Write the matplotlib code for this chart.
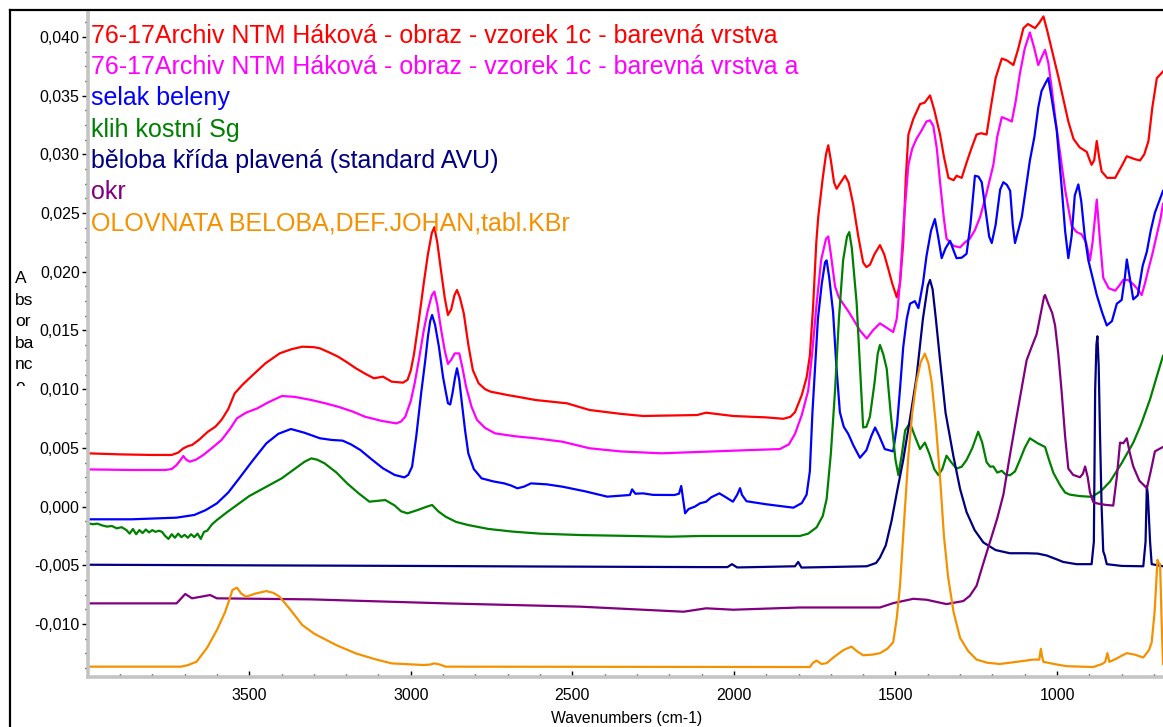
# import libraries

import numpy as np
from matplotlib import pyplot as plt
from matplotlib.lines import Line2D
from matplotlib.ticker import MultipleLocator, AutoMinorLocator, FuncFormatter
from matplotlib.transforms import Bbox, TransformedBbox

plt.rcParams['font.family'] = ['Liberation Sans', 'DejaVu Sans']


# spectra (wavenumber in cm-1, absorbance)

names = ['76-17Archiv NTM Háková - obraz - vzorek 1c - barevná vrstva',
         '76-17Archiv NTM Háková - obraz - vzorek 1c - barevná vrstva a',
         'selak beleny',
         'klih kostní Sg',
         'běloba křída plavená (standard AVU)',
         'okr',
         'OLOVNATA BELOBA,DEF.JOHAN,tabl.KBr']
colors = ['#ff0000', '#ff00ff', '#0000ff', '#008000', '#000080', '#800080', '#f59100']

red = [(4000, 0.00454), (3900, 0.00445), (3800, 0.00440), (3740, 0.00440), (3720, 0.00460),
       (3704, 0.00496), (3690, 0.00515), (3677, 0.00525), (3655, 0.00570), (3628, 0.00638),
       (3605, 0.00680), (3586, 0.00738), (3565, 0.00830), (3545, 0.00965), (3520, 0.01040),
       (3489, 0.01121), (3450, 0.01220), (3406, 0.01305), (3370, 0.01340), (3336, 0.01362),
       (3300, 0.01358), (3281, 0.01348), (3250, 0.01310), (3225, 0.01277), (3195, 0.01225),
       (3170, 0.01178), (3140, 0.01130), (3114, 0.01093), (3086, 0.01107), (3059, 0.01064),
       (3024, 0.01056), (3010, 0.01080), (3000, 0.01160), (2990, 0.01300), (2975, 0.01589),
       (2960, 0.01900), (2947, 0.02150), (2935, 0.02330), (2927, 0.02380), (2918, 0.02250),
       (2906, 0.02000), (2895, 0.01780), (2885, 0.01632), (2875, 0.01680), (2865, 0.01800),
       (2857, 0.01845), (2848, 0.01780), (2836, 0.01646), (2822, 0.01380), (2808, 0.01163),
       (2790, 0.01050), (2770, 0.01000), (2753, 0.00979), (2700, 0.00950), (2670, 0.00936),
       (2614, 0.00908), (2517, 0.00880), (2447, 0.00823), (2350, 0.00790), (2281, 0.00772),
       (2114, 0.00780), (2086, 0.00800), (2003, 0.00772), (1900, 0.00760), (1847, 0.00748),
       (1825, 0.00765), (1811, 0.00804), (1790, 0.00950), (1775, 0.01100), (1765, 0.01284),
       (1755, 0.01700), (1745, 0.02250), (1739, 0.02467), (1725, 0.02800), (1715, 0.03000),
       (1708, 0.03077), (1700, 0.02950), (1690, 0.02760), (1682, 0.02707), (1670, 0.02760),
       (1656, 0.02818), (1645, 0.02760), (1631, 0.02578), (1615, 0.02300), (1600, 0.02079),
       (1590, 0.02040), (1579, 0.02060), (1565, 0.02150), (1548, 0.02227), (1535, 0.02150),
       (1522, 0.02023), (1510, 0.01900), (1496, 0.01783), (1486, 0.01900), (1476, 0.02245),
       (1468, 0.02800), (1460, 0.03169), (1445, 0.03300), (1424, 0.03428), (1410, 0.03440),
       (1393, 0.03502), (1380, 0.03380), (1362, 0.03169), (1350, 0.02980), (1336, 0.02800),
       (1320, 0.02780), (1311, 0.02818), (1295, 0.02800), (1280, 0.02929), (1265, 0.03050),
       (1249, 0.03169), (1235, 0.03180), (1218, 0.03169), (1205, 0.03400), (1190, 0.03650),
       (1171, 0.03816), (1155, 0.03800), (1135, 0.03761), (1120, 0.03900), (1104, 0.04075),
       (1090, 0.04110), (1068, 0.04075), (1055, 0.04120), (1042, 0.04175), (1030, 0.04050),
       (1011, 0.03835), (995, 0.03650), (980, 0.03465), (965, 0.03280), (949, 0.03132),
       (930, 0.03060), (908, 0.03021), (900, 0.02960), (893, 0.02911), (885, 0.02950),
       (877, 0.03114), (870, 0.02980), (862, 0.02855), (845, 0.02800), (820, 0.02800),
       (800, 0.02900), (784, 0.02984), (760, 0.02960), (743, 0.02948), (730, 0.03000),
       (717, 0.03114), (705, 0.03400), (691, 0.03650), (672, 0.03705)]

magenta = [(4000, 0.00317), (3864, 0.00312), (3760, 0.00312), (3740, 0.00320), (3725, 0.00354),
           (3712, 0.00400), (3704, 0.00431), (3695, 0.00400), (3684, 0.00383), (3665, 0.00400),
           (3642, 0.00440), (3615, 0.00500), (3586, 0.00567), (3560, 0.00660), (3538, 0.00752),
           (3510, 0.00800), (3475, 0.00837), (3440, 0.00890), (3399, 0.00942), (3360, 0.00935),
           (3308, 0.00908), (3265, 0.00880), (3225, 0.00851), (3180, 0.00810), (3142, 0.00766),
           (3090, 0.00730), (3045, 0.00709), (3030, 0.00725), (3017, 0.00766), (3000, 0.00900),
           (2988, 0.01050), (2975, 0.01249), (2960, 0.01500), (2947, 0.01676), (2935, 0.01800),
           (2927, 0.01831), (2918, 0.01720), (2906, 0.01504), (2895, 0.01330), (2885, 0.01215),
           (2875, 0.01250), (2864, 0.01305), (2850, 0.01305), (2840, 0.01180), (2829, 0.01022),
           (2812, 0.00850), (2795, 0.00738), (2770, 0.00670), (2739, 0.00624), (2680, 0.00600),
           (2614, 0.00582), (2531, 0.00553), (2447, 0.00497), (2350, 0.00470), (2225, 0.00454),
           (2086, 0.00468), (1947, 0.00482), (1858, 0.00490), (1830, 0.00530), (1811, 0.00619),
           (1790, 0.00780), (1770, 0.00989), (1758, 0.01300), (1744, 0.01728), (1730, 0.02100),
           (1715, 0.02280), (1708, 0.02301), (1700, 0.02150), (1687, 0.01876), (1675, 0.01780),
           (1662, 0.01728), (1645, 0.01660), (1631, 0.01598), (1610, 0.01500), (1589, 0.01432),
           (1570, 0.01500), (1548, 0.01561), (1525, 0.01520), (1507, 0.01487), (1496, 0.01600),
           (1486, 0.01913), (1475, 0.02400), (1460, 0.02911), (1448, 0.03050), (1435, 0.03132),
           (1420, 0.03200), (1404, 0.03280), (1393, 0.03290), (1383, 0.03243), (1372, 0.03050),
           (1362, 0.02763), (1350, 0.02450), (1342, 0.02282), (1320, 0.02220), (1300, 0.02208),
           (1285, 0.02250), (1270, 0.02282), (1255, 0.02350), (1238, 0.02467), (1220, 0.02650),
           (1197, 0.02911), (1185, 0.03150), (1171, 0.03317), (1155, 0.03300), (1140, 0.03280),
           (1128, 0.03450), (1115, 0.03687), (1100, 0.03900), (1084, 0.04038), (1070, 0.03900),
           (1058, 0.03761), (1047, 0.03830), (1037, 0.03890), (1027, 0.03780), (1017, 0.03576),
           (1005, 0.03300), (991, 0.03021), (975, 0.02700), (955, 0.02393), (940, 0.02340),
           (924, 0.02319), (910, 0.02250), (898, 0.02097), (890, 0.02250), (877, 0.02615),
           (868, 0.02300), (857, 0.01949), (840, 0.01860), (820, 0.01839), (808, 0.01880),
           (795, 0.01931), (780, 0.01930), (764, 0.01894), (750, 0.01850), (738, 0.01802),
           (728, 0.01900), (717, 0.02023), (705, 0.02150), (691, 0.02319), (680, 0.02450),
           (672, 0.02578)]

selak = [(4000, -0.00108), (3864, -0.00108), (3725, -0.00094), (3670, -0.00071), (3635, -0.00030),
         (3600, 0.00028), (3565, 0.00120), (3531, 0.00241), (3490, 0.00390), (3447, 0.00539),
         (3410, 0.00620), (3371, 0.00661), (3330, 0.00630), (3281, 0.00582), (3245, 0.00568),
         (3211, 0.00562), (3185, 0.00530), (3156, 0.00482), (3120, 0.00400), (3086, 0.00326),
         (3050, 0.00270), (3020, 0.00249), (3008, 0.00270), (2996, 0.00340), (2983, 0.00600),
         (2968, 0.00965), (2955, 0.01250), (2947, 0.01447), (2940, 0.01580), (2934, 0.01632),
         (2925, 0.01550), (2913, 0.01362), (2900, 0.01100), (2885, 0.00880), (2878, 0.00870),
         (2871, 0.00965), (2863, 0.01100), (2857, 0.01178), (2850, 0.01080), (2843, 0.00908),
         (2832, 0.00650), (2822, 0.00454), (2805, 0.00320), (2781, 0.00241), (2745, 0.00215),
         (2711, 0.00198), (2690, 0.00180), (2670, 0.00156), (2650, 0.00170), (2628, 0.00198),
         (2580, 0.00190), (2531, 0.00170), (2460, 0.00130), (2392, 0.00085), (2322, 0.00099),
         (2315, 0.00147), (2305, 0.00110), (2281, 0.00113), (2250, 0.00100), (2184, 0.00099),
         (2170, 0.00110), (2163, 0.00176), (2157, 0.00060), (2151, -0.00057), (2140, -0.00020),
         (2121, 0.00000), (2105, 0.00028), (2086, 0.00042), (2070, 0.00080), (2045, 0.00113),
         (2025, 0.00080), (2003, 0.00042), (1990, 0.00100), (1981, 0.00157), (1975, 0.00100),
         (1961, 0.00046), (1900, 0.00020), (1816, -0.00009), (1790, 0.00030), (1775, 0.00102),
         (1765, 0.00300), (1757, 0.00800), (1749, 0.01173), (1740, 0.01600), (1728, 0.01900),
         (1718, 0.02080), (1713, 0.02097), (1705, 0.01950), (1693, 0.01654), (1683, 0.01200),
         (1672, 0.00804), (1660, 0.00680), (1646, 0.00619), (1630, 0.00520), (1610, 0.00416),
         (1590, 0.00480), (1575, 0.00600), (1563, 0.00674), (1550, 0.00600), (1533, 0.00490),
         (1507, 0.00471), (1495, 0.00700), (1486, 0.01000), (1476, 0.01358), (1465, 0.01600),
         (1455, 0.01728), (1440, 0.01750), (1429, 0.01691), (1415, 0.01900), (1404, 0.02134),
         (1390, 0.02350), (1378, 0.02449), (1368, 0.02300), (1357, 0.02116), (1345, 0.02200),
         (1331, 0.02264), (1320, 0.02180), (1311, 0.02116), (1295, 0.02120), (1280, 0.02153),
         (1268, 0.02400), (1254, 0.02818), (1243, 0.02810), (1233, 0.02763), (1220, 0.02500),
         (1210, 0.02300), (1202, 0.02245), (1190, 0.02400), (1176, 0.02700), (1166, 0.02763),
         (1155, 0.02740), (1145, 0.02689), (1137, 0.02400), (1130, 0.02245), (1120, 0.02350),
         (1109, 0.02467), (1097, 0.02700), (1084, 0.02948), (1070, 0.03150), (1058, 0.03400),
         (1048, 0.03539), (1037, 0.03600), (1027, 0.03650), (1015, 0.03450), (1001, 0.03206),
         (985, 0.02700), (975, 0.02350), (965, 0.02116), (955, 0.02300), (945, 0.02650),
         (934, 0.02744), (925, 0.02600), (914, 0.02300), (903, 0.02097), (890, 0.01950),
         (877, 0.01802), (860, 0.01650), (846, 0.01543), (830, 0.01580), (815, 0.01728),
         (800, 0.01760), (790, 0.01950), (784, 0.02105), (775, 0.01950), (764, 0.01765),
         (750, 0.01800), (735, 0.02050), (722, 0.02171), (710, 0.02350), (697, 0.02504),
         (684, 0.02600), (672, 0.02689)]

klih = [(4000, -0.00140), (3985, -0.00150), (3970, -0.00145), (3955, -0.00160), (3940, -0.00170),
        (3925, -0.00165), (3910, -0.00185), (3895, -0.00175), (3880, -0.00200), (3870, -0.00230),
        (3860, -0.00190), (3850, -0.00235), (3840, -0.00200), (3830, -0.00225), (3820, -0.00195),
        (3810, -0.00220), (3800, -0.00200), (3790, -0.00215), (3780, -0.00205), (3770, -0.00215),
        (3760, -0.00250), (3750, -0.00275), (3740, -0.00235), (3730, -0.00265), (3720, -0.00230),
        (3710, -0.00260), (3700, -0.00240), (3690, -0.00265), (3680, -0.00235), (3670, -0.00260),
        (3660, -0.00230), (3650, -0.00275), (3640, -0.00215), (3630, -0.00205), (3615, -0.00150),
        (3600, -0.00114), (3570, -0.00050), (3545, 0.00000), (3500, 0.00090), (3447, 0.00170),
        (3400, 0.00240), (3364, 0.00312), (3330, 0.00380), (3308, 0.00411), (3290, 0.00400),
        (3267, 0.00369), (3230, 0.00290), (3197, 0.00198), (3160, 0.00110), (3128, 0.00042),
        (3100, 0.00050), (3079, 0.00056), (3050, 0.00010), (3030, -0.00040), (3010, -0.00057),
        (2980, -0.00030), (2950, 0.00000), (2934, 0.00014), (2915, -0.00040), (2892, -0.00086),
        (2860, -0.00130), (2822, -0.00157), (2760, -0.00190), (2684, -0.00213), (2600, -0.00230),
        (2475, -0.00242), (2197, -0.00256), (2105, -0.00250), (1796, -0.00250), (1770, -0.00230),
        (1744, -0.00176), (1725, -0.00080), (1713, 0.00065), (1700, 0.00450), (1687, 0.00989),
        (1675, 0.01600), (1662, 0.02097), (1650, 0.02300), (1643, 0.02338), (1635, 0.02200),
        (1620, 0.01728), (1610, 0.01200), (1600, 0.00674), (1590, 0.00680), (1579, 0.00767),
        (1565, 0.01050), (1555, 0.01300), (1548, 0.01377), (1538, 0.01300), (1527, 0.01173),
        (1515, 0.00800), (1500, 0.00400), (1491, 0.00268), (1480, 0.00450), (1470, 0.00650),
        (1455, 0.00711), (1440, 0.00600), (1424, 0.00490), (1409, 0.00545), (1395, 0.00450),
        (1380, 0.00320), (1367, 0.00268), (1355, 0.00320), (1342, 0.00434), (1328, 0.00380),
        (1311, 0.00324), (1295, 0.00340), (1280, 0.00397), (1262, 0.00500), (1244, 0.00638),
        (1232, 0.00550), (1218, 0.00379), (1207, 0.00340), (1197, 0.00342), (1185, 0.00290),
        (1171, 0.00305), (1158, 0.00270), (1145, 0.00268), (1130, 0.00300), (1115, 0.00397),
        (1100, 0.00500), (1084, 0.00582), (1060, 0.00540), (1037, 0.00508), (1025, 0.00400),
        (1011, 0.00286), (990, 0.00180), (975, 0.00120), (960, 0.00102), (930, 0.00090),
        (893, 0.00083), (865, 0.00130), (836, 0.00213), (800, 0.00370), (764, 0.00545),
        (740, 0.00700), (712, 0.00915), (690, 0.01120), (672, 0.01284)]

beloba = [(4000, -0.00495), (3000, -0.00505), (2600, -0.00510), (2105, -0.00515), (2020, -0.00515),
          (2006, -0.00490), (1990, -0.00518), (1811, -0.00508), (1801, -0.00471), (1791, -0.00519),
          (1589, -0.00508), (1560, -0.00480), (1548, -0.00434), (1530, -0.00330), (1512, -0.00120),
          (1495, 0.00130), (1476, 0.00397), (1455, 0.00750), (1435, 0.01099), (1415, 0.01600),
          (1400, 0.01880), (1393, 0.01931), (1385, 0.01850), (1375, 0.01600), (1362, 0.01247),
          (1345, 0.00800), (1321, 0.00434), (1300, 0.00150), (1280, -0.00046), (1255, -0.00200),
          (1228, -0.00305), (1190, -0.00370), (1146, -0.00397), (1094, -0.00397), (1060, -0.00400),
          (1032, -0.00416), (1000, -0.00450), (981, -0.00471), (940, -0.00490), (893, -0.00490),
          (886, -0.00300), (882, 0.00989), (878, 0.01380), (875, 0.01451), (871, 0.01200),
          (867, 0.00619), (862, 0.00000), (857, -0.00379), (852, -0.00420), (846, -0.00490),
          (800, -0.00505), (733, -0.00508), (726, -0.00300), (722, 0.00176), (719, 0.00100),
          (717, -0.00009), (712, -0.00300), (707, -0.00490), (672, -0.00508)]

okr = [(4000, -0.00824), (3725, -0.00824), (3698, -0.00744), (3677, -0.00781), (3621, -0.00753),
       (3600, -0.00781), (3308, -0.00790), (2892, -0.00824), (2475, -0.00852), (2156, -0.00895),
       (2086, -0.00866), (2002, -0.00878), (1796, -0.00859), (1548, -0.00859), (1507, -0.00822),
       (1445, -0.00785), (1404, -0.00793), (1342, -0.00830), (1290, -0.00804), (1270, -0.00760),
       (1249, -0.00674), (1230, -0.00500), (1208, -0.00305), (1185, -0.00100), (1166, 0.00102),
       (1145, 0.00450), (1125, 0.00767), (1110, 0.01000), (1094, 0.01247), (1080, 0.01350),
       (1063, 0.01469), (1050, 0.01650), (1040, 0.01790), (1037, 0.01802), (1027, 0.01728),
       (1015, 0.01650), (1006, 0.01543), (996, 0.01300), (986, 0.00989), (975, 0.00600),
       (965, 0.00324), (950, 0.00270), (929, 0.00250), (920, 0.00280), (913, 0.00342),
       (905, 0.00250), (898, 0.00120), (888, 0.00040), (877, 0.00028), (850, 0.00015),
       (826, 0.00009), (815, 0.00250), (805, 0.00545), (795, 0.00540), (784, 0.00582),
       (775, 0.00460), (764, 0.00342), (745, 0.00220), (722, 0.00157), (710, 0.00300),
       (697, 0.00471), (672, 0.00508)]

olovnata = [(4000, -0.01363), (3711, -0.01363), (3690, -0.01350), (3663, -0.01321), (3630, -0.01200),
            (3600, -0.01051), (3575, -0.00900), (3560, -0.00780), (3552, -0.00710), (3538, -0.00690),
            (3525, -0.00740), (3510, -0.00767), (3480, -0.00740), (3447, -0.00719), (3425, -0.00735),
            (3406, -0.00767), (3375, -0.00870), (3336, -0.01008), (3300, -0.01080), (3281, -0.01108),
            (3230, -0.01180), (3170, -0.01250), (3110, -0.01300), (3059, -0.01335), (2961, -0.01349),
            (2940, -0.01345), (2927, -0.01335), (2910, -0.01345), (2892, -0.01363), (1765, -0.01366),
            (1755, -0.01330), (1744, -0.01311), (1729, -0.01340), (1713, -0.01333), (1690, -0.01280),
            (1660, -0.01220), (1636, -0.01192), (1620, -0.01230), (1600, -0.01266), (1570, -0.01260),
            (1548, -0.01248), (1525, -0.01210), (1507, -0.01155), (1496, -0.00950), (1486, -0.00675),
            (1475, -0.00200), (1460, 0.00434), (1448, 0.00800), (1435, 0.01062), (1422, 0.01230),
            (1409, 0.01303), (1398, 0.01220), (1388, 0.01062), (1375, 0.00700), (1362, 0.00249),
            (1350, -0.00250), (1337, -0.00601), (1320, -0.00900), (1300, -0.01118), (1275, -0.01230),
            (1249, -0.01303), (1215, -0.01330), (1177, -0.01340), (1120, -0.01320), (1074, -0.01303),
            (1055, -0.01303), (1050, -0.01211), (1046, -0.01280), (1042, -0.01322), (1000, -0.01345),
            (970, -0.01359), (888, -0.01366), (860, -0.01340), (851, -0.01322), (844, -0.01248),
            (838, -0.01322), (820, -0.01300), (800, -0.01270), (784, -0.01248), (760, -0.01260),
            (733, -0.01285), (715, -0.01220), (707, -0.01155), (698, -0.00900), (689, -0.00453),
            (685, -0.00480), (681, -0.00490), (676, -0.01000), (672, -0.01340)]

spectra = [red, magenta, selak, klih, beloba, okr, olovnata]


# figure and axes

W, H = 1163, 727
fig = plt.figure(figsize=(W / 100, H / 100), dpi=100)
ax = fig.add_axes([88 / W, 1 - 677 / H, 1 - 88 / W, (677 - 13) / H])

for s, c in zip(spectra, colors):
    s = np.array(s)
    ax.plot(s[:, 0], s[:, 1], color=c, lw=1.6, solid_joinstyle='round')

ax.set_xlim(3999, 672)
ax.set_ylim(-0.01451, 0.04204)

for side in ['top', 'right']:
    ax.spines[side].set_visible(False)
for side in ['left', 'bottom']:
    ax.spines[side].set_color('#c4c4c4')
    ax.spines[side].set_linewidth(2.6)

ax.xaxis.set_major_locator(MultipleLocator(500))
ax.xaxis.set_minor_locator(MultipleLocator(100))
ax.yaxis.set_major_locator(MultipleLocator(0.005))
ax.yaxis.set_minor_locator(AutoMinorLocator(4))
ax.yaxis.set_major_formatter(FuncFormatter(lambda v, p: f'{v:.3f}'.replace('.', ',').replace('-0,000', '0,000')))

ax.tick_params(axis='x', which='both', direction='in', color='black', pad=8, labelsize=11.5)
ax.tick_params(axis='x', which='major', length=4, width=1)
ax.tick_params(axis='x', which='minor', length=2, width=1)
ax.tick_params(axis='y', which='both', direction='out', color='black', pad=2, labelsize=11.5)
ax.tick_params(axis='y', which='major', length=4, width=1)
ax.tick_params(axis='y', which='minor', length=2, width=1)

fig.text(627 / W, 1 - 718 / H, 'Wavenumbers (cm-1)', ha='center', va='center', fontsize=11.3)


# legend text inside the plot

for i, (name, c) in enumerate(zip(names, colors)):
    fig.text(91 / W, 1 - (43 + i * 31.2) / H, name, color=c, fontsize=18, va='baseline')


# wrapped absorbance label, last line cut off

clip = TransformedBbox(Bbox.from_extents(0, 1 - 386 / H, 88 / W, 1), fig.transFigure)
for i, part in enumerate(['A', 'bs', 'or', 'ba', 'nc', 'e']):
    t = fig.text(15 / W, 1 - (283 + i * 21.6) / H, part, fontsize=12.5, va='baseline')
    t.set_clip_box(clip)
    t.set_clip_on(True)


# outer frame

fig.add_artist(Line2D([10 / W, 10 / W], [0, 1 - 10 / H], color='black', lw=1.6, transform=fig.transFigure))
fig.add_artist(Line2D([10 / W, 1], [1 - 10 / H, 1 - 10 / H], color='black', lw=1.6, transform=fig.transFigure))

plt.savefig('out.png', dpi=100)
